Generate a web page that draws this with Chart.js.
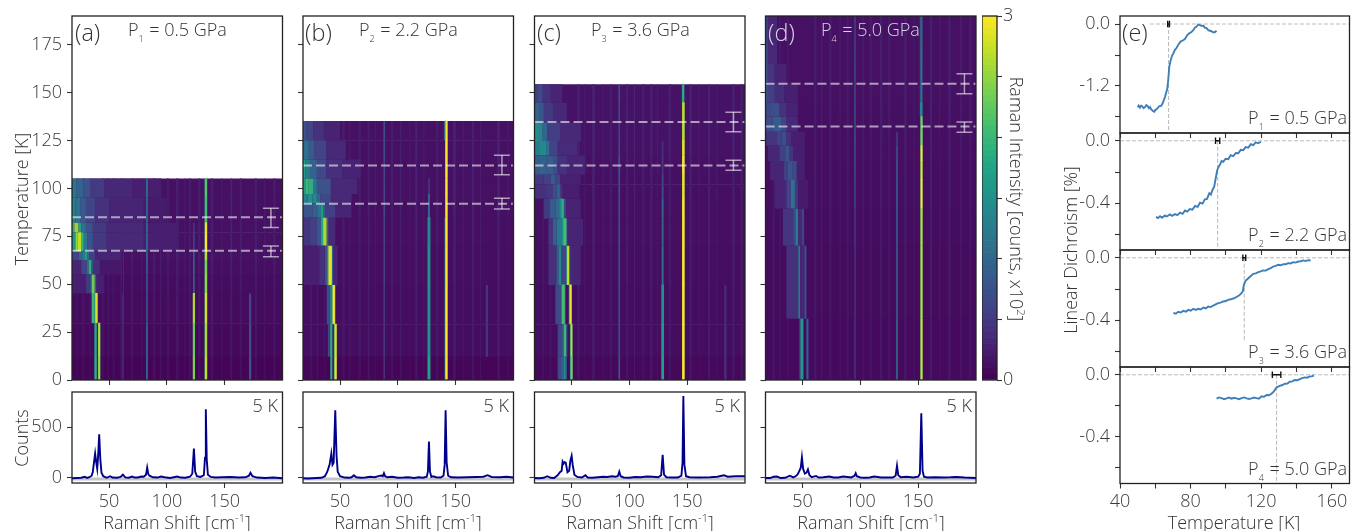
<!DOCTYPE html>
<html>
<head>
<meta charset="utf-8">
<script src="https://cdn.jsdelivr.net/npm/chart.js@4/dist/chart.umd.js"></script>
<style>
  html, body { margin: 0; background: #fff; overflow: hidden; }
  #fig { position: relative; width: 1361px; height: 531px; overflow: hidden; font-family: 'Open Sans', sans-serif; font-weight: 300; color: #333; }
  canvas { position: absolute; }
  .t { position: absolute; white-space: nowrap; line-height: 1; font-size: 18px; }
  .tag { font-size: 23.5px; }
  .c { transform: translate(-50%, -50%); }
  .r90 { transform: translate(-50%, -50%) rotate(90deg); }
  .l90 { transform: translate(-50%, -50%) rotate(-90deg); }
  .t sub { font-size: 9px; vertical-align: -6px; line-height: 0; margin-right: 1px; }
  .t sup { font-size: 11px; vertical-align: 7px; line-height: 0; }
</style>
</head>
<body>
<div id="fig">
  <div class="t tag" style="left:75px;top:21px">(a)</div>
  <div class="t tag" style="left:305px;top:21px">(b)</div>
  <div class="t tag" style="left:537px;top:21px">(c)</div>
  <div class="t tag" style="left:768px;top:21px;color:#d9d3e6">(d)</div>
  <div class="t tag" style="left:1122px;top:21px">(e)</div>
  <div class="t" style="left:128px;top:20px">P<sub>1</sub> = 0.5 GPa</div>
  <div class="t" style="left:359px;top:20px">P<sub>2</sub> = 2.2 GPa</div>
  <div class="t" style="left:591px;top:20px">P<sub>3</sub> = 3.6 GPa</div>
  <div class="t" style="left:821px;top:20px;color:#d9d3e6">P<sub>4</sub> = 5.0 GPa</div>
  <div class="t" style="right:1083px;top:396px">5 K</div>
  <div class="t" style="right:852px;top:396px">5 K</div>
  <div class="t" style="right:621px;top:396px">5 K</div>
  <div class="t" style="right:389px;top:396px">5 K</div>
  <div class="t" style="right:14px;top:108px">P<sub>1</sub> = 0.5 GPa</div>
  <div class="t" style="right:14px;top:225px">P<sub>2</sub> = 2.2 GPa</div>
  <div class="t" style="right:14px;top:342px">P<sub>3</sub> = 3.6 GPa</div>
  <div class="t" style="right:14px;top:459px">P<sub>4</sub> = 5.0 GPa</div>
  <div class="t l90" style="left:21px;top:199px">Temperature [K]</div>
  <div class="t l90" style="left:21px;top:438px">Counts</div>
  <div class="t c" style="left:177px;top:522px">Raman Shift [cm<sup>-1</sup>]</div>
  <div class="t c" style="left:408px;top:522px">Raman Shift [cm<sup>-1</sup>]</div>
  <div class="t c" style="left:640px;top:522px">Raman Shift [cm<sup>-1</sup>]</div>
  <div class="t c" style="left:871px;top:522px">Raman Shift [cm<sup>-1</sup>]</div>
  <div class="t r90" style="left:1017px;top:199px">Raman Intensity [counts, x10<sup>2</sup>]</div>
  <div class="t l90" style="left:1070px;top:250px">Linear Dichroism [%]</div>
  <div class="t c" style="left:1234px;top:522px">Temperature [K]</div>
</div>
<script>
// heatmap rows: temperature edges, row background, stripes shared by rows, then [from, to, intensity] runs per row
const edgesA = [0, 12, 29.5, 45, 55, 62.5, 67, 77, 82, 95, 105];
const bgA = [0.03, 0.07, 0.09, 0.1, 0.12, 0.14, 0.14, 0.14, 0.14, 0.14];
const stripesA = [[22,23,.08],[27,28.5,.1],[33,34,.09],[44,45.5,.08],[49,50,.1],[53,55,.06],[60,61,.15],[62,63,.18],[69,70.5,.12],[78,79,.1],[88,90,.09],[94,95,.12],[100,102,.08],[108,110,.12],[115,116,.09],[119,121,.08],[127,129,.1],[138,140,.12],[147,148,.08],[155,156.5,.14],[163,165,.09],[176,178,.1],[184,185,.08],[192,194,.09]];
const runsA = [
  [[37.2,38,1.0],[38,39,1.9],[39,40.2,.45],[40.5,41,1.3],[41,42,2.6],[42,42.6,.9],[82,83.6,1.0],[61.5,62.5,.4],[122.8,124,2.4],[132.6,133.2,1.1],[133.2,134.4,2.7],[134.4,135,1.1],[171,173,.75]],
  [[37.2,38,1.0],[38,39,1.8],[39,40.2,.45],[40.5,41,1.3],[41,42,2.7],[42,42.6,.9],[82,83.6,.9],[61.5,62.5,.4],[122.8,124,2.3],[132.6,133.2,1.1],[133.2,134.4,2.6],[134.4,135,1.1],[171,173,.7]],
  [[34.8,35.6,1.0],[35.6,37.2,2.0],[37.2,38.4,1.1],[38.4,39.8,2.8],[39.8,40.4,.8],[82,83.6,.7],[61.5,62.5,.4],[122.8,124,2.6],[132.6,133.2,1.1],[133.2,134.4,2.8],[134.4,135,1.1],[171,173,.6]],
  [[18,30,.25],[30,34,.5],[34,35.2,1.2],[35.2,37.6,2.3],[37.6,39,.9],[39,46,.25],[82,83.6,.7],[122.8,124,1.2],[132.6,133.2,1.1],[133.2,134.4,2.5],[134.4,135,1.1]],
  [[18,26,.3],[26,31,.6],[31,32.4,1.1],[32.4,34.6,1.9],[34.6,36,.9],[36,42,.4],[42,60,.2],[82,83.6,.8],[122.8,124,1.2],[132.6,133.2,1.1],[133.2,134.4,2.4],[134.4,135,1.1]],
  [[18,24,.6],[24,27,1.0],[27,29,1.4],[29,31.4,1.6],[31.4,33,1.0],[33,38,.55],[38,60,.3],[82,83.6,.9],[122.8,124,1.1],[132.6,133.2,1.1],[133.2,134.4,2.7],[134.4,135,1.1]],
  [[18,21,1.6],[21,23,2.5],[23,26,2.7],[26,28,2.0],[28,31,1.2],[31,36,.75],[36,48,.5],[48,80,.35],[80,110,.25],[82,83.6,1.0],[122.8,124,.7],[132.6,133.2,1.1],[133.2,134.4,3],[134.4,135,1.1]],
  [[18,20,1.9],[20,23.5,2.5],[23.5,26,1.7],[26,30,1.1],[30,36,.75],[36,48,.5],[48,80,.35],[80,110,.25],[82,83.6,1.0],[122.8,124,.55],[132.6,133.2,1.1],[133.2,134.4,2.9],[134.4,135,1.1]],
  [[18,21,1.3],[21,25,1.1],[25,30,.85],[30,38,.6],[38,50,.42],[50,80,.3],[80,100,.22],[82,83.6,1.0],[132.6,133.2,.9],[133.2,134.4,2.1],[134.4,135,.9]],
  [[18,22,1.15],[22,28,.95],[28,34,.75],[34,46,.52],[46,70,.34],[70,95,.25],[82,83.6,1.1],[132.6,133.2,.9],[133.2,134.4,2.2],[134.4,135,.9]]
];
const edgesB = [0, 12, 29, 49.5, 70, 84.6, 92, 97, 105, 115, 125, 135];
const bgB = [0.04, 0.1, 0.1, 0.11, 0.12, 0.13, 0.14, 0.14, 0.14, 0.14, 0.14];
const stripesB = [[24,26,.09],[30,31,.12],[36,37,.08],[52,54,.1],[58,59,.12],[66,68,.09],[74,75.5,.12],[80,81,.09],[94,96,.1],[102,103,.15],[110,111,.08],[115,117,.12],[122,123,.1],[133,135,.09],[148,150,.14],[156,157,.09],[164,166,.12],[171,172,.09],[186,188,.14],[195,196,.08]];
const runsB = [
  [[41.6,42.2,1],[42.2,43,1.9],[45,45.6,1.5],[45.6,46.8,2.9],[46.8,47.3,1],[87.5,89,.4],[126,127.8,1.7],[140.8,141.4,1.4],[141.4,142.6,3],[142.6,143.2,1.3]],
  [[39.5,41,.6],[41,42,1],[42,43,1.9],[45,45.6,1.4],[45.6,46.8,2.8],[46.8,47.3,1],[87.5,89,.45],[126,127.8,1.5],[140.8,141.4,1.4],[141.4,142.6,3],[142.6,143.2,1.3],[176,178,.45]],
  [[38.5,41,.7],[41,43,1.2],[43,43.6,1.6],[43.6,45.6,3],[45.6,46.2,1],[87.5,89,.45],[126,127.8,1.5],[140.8,141.4,1.4],[141.4,142.6,3],[142.6,143.2,1.3],[176,178,.45]],
  [[18,32,.25],[32,37,.4],[37,39,.7],[39,40,1.4],[40,43,2.9],[43,44,1],[44,48,.3],[87.5,89,.55],[126,127.8,1.5],[140.8,141.4,1.4],[141.4,142.6,3],[142.6,143.2,1.3]],
  [[18,24,.45],[24,30,.55],[30,34,.8],[34,35.4,1.8],[35.4,38.4,2.6],[38.4,40,1],[40,46,.35],[87.5,89,.55],[126,127.8,1.4],[140.8,141.4,1.4],[141.4,142.6,3],[142.6,143.2,1.3]],
  [[18,26,.8],[26,31,.9],[31,33,1.2],[33,35.4,1.6],[35.4,37,1],[37,46,.55],[46,60,.3],[87.5,89,.6],[126,127.8,1.0],[140.8,141.4,1.2],[141.4,142.6,3],[142.6,143.2,1.2]],
  [[18,22,1.3],[22,26,1.5],[26,30,1.4],[30,33,1.0],[33,42,.65],[42,60,.35],[87.5,89,.6],[126,127.8,.9],[140.8,141.4,1.2],[141.4,142.6,3],[142.6,143.2,1.2]],
  [[18,20,1.7],[20,23,2.0],[23,27,1.9],[27,30,1.2],[30,42,.75],[42,65,.35],[87.5,89,.6],[126,127.8,.4],[140.8,141.4,1.2],[141.4,142.6,3],[142.6,143.2,1.2]],
  [[18,20,1.7],[20,24,1.25],[24,30,.95],[30,38,.65],[38,52,.4],[52,68,.28],[87.5,89,.6],[140.8,141.4,1.2],[141.4,142.6,3],[142.6,143.2,1.2]],
  [[18,23,1.1],[23,28,.85],[28,38,.6],[38,55,.35],[87.5,89,.65],[140.8,141.4,1.2],[141.4,142.6,3],[142.6,143.2,1.2]],
  [[18,21,.8],[21,27,.6],[27,36,.42],[36,50,.28],[87.5,89,.7],[139.8,141,.9],[141,141.6,1.6],[141.6,142.6,3],[142.6,143.2,1.1]]
];
const edgesC = [0, 12, 29, 49.5, 70, 84, 94.5, 102, 107, 117, 124.6, 134, 144.6, 154.3];
const bgC = [0.06, 0.1, 0.1, 0.11, 0.12, 0.12, 0.13, 0.13, 0.14, 0.15, 0.15, 0.15, 0.15];
const stripesC = [[25,26,.1],[31,32.5,.09],[55,57,.12],[61,62,.09],[68,70,.15],[77,78,.1],[83,85,.09],[97,99,.1],[104,105,.14],[111,113,.09],[118,120,.12],[124,125,.09],[134,136,.1],[152,154,.12],[160,161,.08],[168,170,.12],[175,176,.09],[189,191,.12],[196,198,.09]];
const runsC = [
  [[38,41,.65],[41,43,.95],[43,45,1.5],[45,46,.9],[49,49.6,1.4],[49.6,50.6,2.4],[50.6,51,.9],[90.5,92,.75],[128,129.6,1.7],[145.6,146,1.3],[146,147.4,3],[147.4,147.9,1.3],[182,184,.4]],
  [[38,42,.6],[42,43.4,1.1],[43.4,45.4,2.0],[45.4,46.4,.8],[49,49.6,1.5],[49.6,50.4,2.7],[50.4,51,.9],[90.5,92,.7],[128,129.6,1.6],[145.6,146,1.3],[146,147.4,3],[147.4,147.9,1.3],[182,184,.4]],
  [[36,41,.65],[41,42,1.1],[42,43.8,2.1],[43.8,45,.8],[48,48.6,1.5],[48.6,49.8,2.9],[49.8,50.4,.9],[90.5,92,.7],[128,129.6,1.5],[145.6,146,1.3],[146,147.4,3],[147.4,147.9,1.3],[182,184,.35]],
  [[30,37,.4],[37,38.8,.9],[38.8,41,1.4],[41,45,.6],[45,46,1.3],[46,48,2.7],[48,49,.9],[49,58,.3],[90.5,92,.7],[128,129.6,1.1],[145.6,146,1.3],[146,147.4,3],[147.4,147.9,1.3]],
  [[30,34,.45],[34,37,.9],[37,42,1.2],[42,43.4,1.5],[43.4,45.2,2.1],[45.2,46.4,.8],[46.4,60,.3],[90.5,92,.7],[128,129.6,1.0],[145.6,146,1.3],[146,147.4,3],[147.4,147.9,1.3]],
  [[26,31,.5],[31,36,.85],[36,40,1.05],[40,41.4,1.4],[41.4,43.4,1.9],[43.4,45,.7],[45,58,.28],[90.5,92,.7],[128,129.6,1.0],[145.6,146,1.2],[146,147.4,3],[147.4,147.9,1.2]],
  [[18,28,.4],[28,34,.5],[34,37,.7],[37,40,.95],[40,42,.45],[42,56,.25],[90.5,92,.7],[128,129.6,.7],[145.6,146,1.2],[146,147.4,2.9],[147.4,147.9,1.2]],
  [[18,26,.5],[26,32,.55],[32,36,.85],[36,40,.6],[40,58,.27],[90.5,92,.7],[128,129.6,.6],[145.6,146,1.2],[146,147.4,2.9],[147.4,147.9,1.2]],
  [[18,22,.85],[22,28,.95],[28,34,.85],[34,38,.7],[38,46,.42],[46,62,.3],[90.5,92,.8],[128,129.6,.45],[145.6,146,1.2],[146,147.4,3],[147.4,147.9,1.2]],
  [[18,22,1.25],[22,28,1.4],[28,31,1.1],[31,38,.6],[38,55,.36],[90.5,92,.6],[128,129.6,.4],[145.6,146,1.2],[146,147.4,2.9],[147.4,147.9,1.2]],
  [[18,21,1.5],[21,25,1.35],[25,29,1.0],[29,40,.55],[40,58,.35],[90.5,92,.55],[145.6,146,1.1],[146,147.4,2.7],[147.4,147.9,1.1]],
  [[18,22,.95],[22,26,.8],[26,34,.5],[34,46,.33],[90.5,92,.6],[145.6,146,1.1],[146,147.4,2.7],[147.4,147.9,1.1]],
  [[18,21,.55],[21,25,.65],[25,32,.42],[32,42,.3],[90.5,92,.7],[145.4,146,1.2],[146,147,1.9],[147,147.6,1.1]]
];
const edgesD = [0, 31.8, 69.9, 89.3, 104.3, 114.2, 122.2, 129.5, 137.3, 144.6, 155, 164.8, 174.7, 190];
const bgD = [0.08, 0.09, 0.1, 0.11, 0.11, 0.12, 0.12, 0.13, 0.13, 0.14, 0.14, 0.14, 0.14];
const stripesD = [[24,26,.09],[30,31,.12],[37,38,.08],[60,62,.1],[66,67,.12],[73,75,.09],[82,83,.1],[88,90,.08],[102,103,.12],[108,110,.08],[117,119,.1],[124,126,.08],[138,140,.12],[146,147,.09],[160,162,.12],[168,169,.08],[176,178,.12],[186,188,.09],[194,196,.08]];
const runsD = [
  [[47,48.6,.45],[48.6,50.2,1.6],[50.2,51,.5],[53.4,55.2,.9],[94.8,96,.5],[131,132.4,1.1],[151.8,152.4,1.1],[152.4,153.4,2.8],[153.4,154,1.1]],
  [[36,45.6,.4],[45.6,46.4,.7],[46.4,47.8,1.3],[47.8,51.6,.3],[51.6,53.4,.75],[94.8,96,.5],[131,132.4,.9],[151.8,152.4,1.1],[152.4,153.4,2.7],[153.4,154,1.1]],
  [[33,42,.45],[42,44,.7],[44,46,1.35],[46,49.4,.35],[49.4,51.4,.6],[94.8,96,.55],[131,132.4,.9],[151.8,152.4,1.1],[152.4,153.4,2.7],[153.4,154,1.1]],
  [[26,36,.3],[36,40,.6],[40,43.4,1.1],[43.4,46,.5],[46,55,.22],[94.8,96,.7],[131,132.4,.9],[151.8,152.4,1.1],[152.4,153.4,3],[153.4,154,1.1]],
  [[22,34,.3],[34,37,.55],[37,41,.8],[41,45,.65],[45,52,.25],[94.8,96,.75],[131,132.4,.85],[151.8,152.4,1.1],[152.4,153.4,2.9],[153.4,154,1.1]],
  [[20,30,.32],[30,35,.55],[35,38.4,.8],[38.4,42,.45],[42,52,.25],[94.8,96,.8],[131,132.4,.8],[151.8,152.4,1.1],[152.4,153.4,3],[153.4,154,1.1]],
  [[18,28,.45],[28,32,.6],[32,36,.7],[36,40,.42],[40,52,.25],[94.8,96,.85],[131,132.4,.55],[151.8,152.4,1.1],[152.4,153.4,2.5],[153.4,154,1.1]],
  [[18,24,.7],[24,32,.85],[32,36,.6],[36,46,.35],[94.8,96,.8],[151.8,152.4,1.0],[152.4,153.4,2.4],[153.4,154,1.0]],
  [[18,22,.65],[22,30,.72],[30,36,.42],[36,46,.28],[94.8,96,.75],[151.4,152,.9],[152,153.2,1.4],[153.2,153.8,.9]],
  [[18,20,.8],[20,26,.55],[26,34,.38],[34,46,.26],[94.8,96,.7],[151.4,152,.9],[152,153.2,1.3],[153.2,153.8,.9]],
  [[18,20,.75],[20,26,.45],[26,36,.28],[94.8,96,.7],[151.4,152,.9],[152,153.2,1.3],[153.2,153.8,.9]],
  [[18,20,.7],[20,28,.35],[94.8,96,.65],[151.4,152,.9],[152,153.2,1.25],[153.2,153.8,.9]],
  [[18,20,.6],[20,28,.32],[94.8,96,.6],[151.4,152,.9],[152,153.2,1.2],[153.2,153.8,.9]]
];
// transition temperatures and their errors per pressure: [T, low, high]
const tcUpperA = [85, 79.6, 89.7], tcLowerA = [67.5, 64.3, 69.9];
const tcUpperB = [112, 107.2, 117.3], tcLowerB = [92, 89.3, 94.9];
const tcUpperC = [134.7, 129.6, 139.7], tcLowerC = [112, 109.5, 114.7];
const tcUpperD = [154.7, 149.4, 159.9], tcLowerD = [132.3, 129.3, 134.7];

// spectra at 5 K
const specXa = [18,22,26,29,31,33,35,36,37,38,39,39.8,40.5,41.5,42.5,43.5,45,48,51,53,57,60,62,64,67,70,72,75,78,80,82,83,84,85,88,92,95,98,103,109,112,116,120,122,123.4,124.5,126,129,132,133,133.7,134.5,135.5,138,142,148,155,162,168,171,172.3,174,178,185,192,200];
const specYa = [-5,-3,0,10,-2,5,20,60,150,240,150,90,200,430,180,50,15,0,15,2,0,8,30,3,0,12,2,3,12,10,30,100,35,20,5,2,12,5,-2,12,2,0,10,40,290,60,15,8,25,200,680,180,30,8,2,5,8,3,5,20,50,15,2,-3,2,-5];
const specXb = [18,22,26,30,34,37,39,41,42.5,43.5,44.5,45.9,47,48,50,54,58,60,62,64,68,72,76,80,84,86,87,88,89,91,95,100,105,109,114,118,122,125,126,126.9,127.8,129,130.5,133,137,139.5,140.5,141.3,142.2,143.5,146,152,160,168,174,177.6,181,188,194,200];
const specYb = [-5,-8,-5,-3,0,15,60,130,240,130,150,670,220,60,15,2,0,5,25,5,0,2,10,5,18,22,15,45,15,5,10,0,2,5,-2,5,0,10,60,360,60,8,15,5,2,20,130,670,150,20,5,2,5,8,10,25,8,5,10,3];
const specXc = [18,22,26,29,32,35,38,40,41.5,42.3,43.2,44,45,46.5,48,49,50.1,51,52.5,55,59,62,64,68,73,77,81,85,88,90,91.3,92.5,95,100,105,110,115,120,125,127.5,128.8,130,132,137,142,145,146,146.7,147.6,149,152,160,170,176,181.8,185,192,200];
const specYc = [-3,-5,0,15,0,-2,25,55,70,160,140,155,150,55,70,170,218,130,30,8,2,25,3,0,5,10,8,15,10,15,60,15,3,0,8,5,12,10,5,25,228,30,5,2,3,20,150,811,130,15,5,2,5,10,25,10,15,15];
const specXd = [18,22,25,28,31,35,39,42,44,45.6,47,48.5,49.5,50.5,52,53.5,54.7,56,58,61.7,64,68,73,77,81,85,89,92,95,96,97,100,104,108,112,118,124,128,130.5,131.7,132.8,135,140,146,150,151.5,152.7,153.8,155,158,165,172,178,183,190,200];
const specYd = [-3,-3,10,12,-3,0,20,3,15,30,60,100,202,90,40,50,83,25,5,18,3,5,12,2,3,12,8,3,20,45,15,3,0,3,12,2,2,3,20,119,25,5,10,2,10,40,640,70,10,3,5,3,5,8,2,-2];

// linear dichroism curves, with the scatter of the trace kept in the readings
const ldTa = [50,50.6,51.3,52,52.6,53.4,54.1,54.9,55.7,56.4,57,57.6,58.1,58.8,59.4,60.1,60.8,61.5,62.3,63.2,64.1,65.5,66.8,67.4,67.9,68.7,69.5,70.2,71.1,72.1,73.2,74.3,75.5,76.8,78,79.2,80.3,81.5,82.4,83.4,84.3,85.3,86.2,87.2,88.1,89,90,90.9,91.8,92.8,93.7,94.7];
const ldVa = [-1.61,-1.58,-1.62,-1.58,-1.59,-1.63,-1.61,-1.57,-1.59,-1.63,-1.61,-1.65,-1.65,-1.69,-1.70,-1.66,-1.65,-1.62,-1.59,-1.59,-1.54,-1.41,-1.25,-1.05,-.83,-.70,-.61,-.57,-.50,-.46,-.39,-.34,-.32,-.29,-.22,-.18,-.16,-.12,-.07,-.05,-.01,-.02,-.04,-.03,-.07,-.08,-.12,-.13,-.14,-.16,-.16,-.13];
const ldTb = [60.4,61.5,62.7,63.8,65.5,66.5,68.3,69.5,71.2,72.5,74,75.5,76.8,78,79.6,81,82.5,84,85.3,86.7,88.1,89.3,90.6,91.5,92.5,93.4,94.2,95.1,95.9,96.6,97.5,98.5,99.8,101.3,102.7,104.2,105.6,107,108.4,109.8,111.2,112.7,114.1,115.5,116.9,118.3,119.8];
const ldVb = [-.488,-.495,-.484,-.493,-.478,-.485,-.472,-.481,-.470,-.477,-.460,-.468,-.447,-.454,-.437,-.442,-.418,-.424,-.397,-.403,-.375,-.372,-.335,-.345,-.312,-.293,-.24,-.187,-.166,-.154,-.130,-.135,-.115,-.118,-.092,-.098,-.078,-.080,-.058,-.060,-.040,-.044,-.022,-.028,-.010,-.016,-.006];
const ldTc = [70.2,71.6,73,74.4,75.9,77.3,78.7,80.1,81.5,82.9,84.3,85.7,87.2,88.6,90,91.4,92.8,94.2,95.6,97,98.5,99.9,101.3,102.7,104.2,105.3,106.4,107.4,108.3,109.5,110.2,111.1,112.7,114.1,115.5,116.9,118.3,119.7,121.1,122.5,124,125.4,126.8,128.2,129.6,131,132.5,133.9,135.3,136.7,138.1,139.5,141,142.4,143.8,145.2,146.6,148];
const ldVc = [-.353,-.358,-.346,-.351,-.340,-.345,-.334,-.339,-.327,-.334,-.327,-.331,-.319,-.324,-.312,-.316,-.306,-.298,-.291,-.287,-.280,-.277,-.270,-.266,-.261,-.256,-.248,-.242,-.233,-.216,-.173,-.148,-.131,-.117,-.103,-.100,-.092,-.087,-.081,-.082,-.073,-.066,-.056,-.052,-.045,-.048,-.041,-.041,-.034,-.036,-.028,-.031,-.024,-.022,-.017,-.021,-.015,-.017];
const ldTd = [94.7,96.1,97.5,99,100.4,101.8,103.2,104.6,106,107.4,108.9,110.3,111.7,113.1,114.5,115.9,117.3,118.7,120.2,121.6,123,124.4,125.8,127.2,128.7,130.5,132,133.4,134.8,136.2,137.6,139,140.5,141.9,143.3,144.7,146.1,147.5,149,149.8];
const ldVd = [-.154,-.146,-.150,-.157,-.152,-.147,-.154,-.148,-.152,-.157,-.150,-.146,-.152,-.156,-.152,-.147,-.150,-.154,-.139,-.142,-.130,-.132,-.122,-.107,-.081,-.071,-.066,-.058,-.056,-.045,-.043,-.034,-.035,-.028,-.021,-.017,-.019,-.011,-.009,-.004];
// [T, error, where the dashed drop line stops]
const ldTcA = [67.5, .5, -2.11], ldTcB = [95.3, 1.2, -.7], ldTcC = [110.4, .8, -.54], ldTcD = [128.7, 2.4, -.7];

const heatTicksX = [50, 100, 150];
const heatTicksY = [0, 25, 50, 75, 100, 125, 150, 175];
const countTicks = [0, 500];
const cbarTicks = [0, .5, 1, 1.5, 2, 2.5, 3];
const ldTicksX = [40, 60, 80, 100, 120, 140, 160];
const ldLabelsX = [40, 80, 120, 160];

const VIRIDIS = ['#440154','#482475','#414487','#355f8d','#2a788e','#21918c','#22a884','#44bf70','#7ad151','#bddf26','#fde725'];
const INK = '#3a3a3a';
const FONT = "'Open Sans', sans-serif";
const HEAT_W = 210.5, HEAT_H = 364, PX_PER_K = HEAT_H / 190;

function hexRgb(h) { return [1, 3, 5].map(i => parseInt(h.slice(i, i + 2), 16)); }
function viridis(v) {
  const t = Math.min(Math.max(v / 3, 0), 1) * 10;
  const i = Math.min(Math.floor(t), 9), f = t - i;
  const a = hexRgb(VIRIDIS[i]), b = hexRgb(VIRIDIS[i + 1]);
  return `rgb(${a.map((c, k) => Math.round(c + (b[k] - c) * f)).join(',')})`;
}

const framePlugin = {
  id: 'frame',
  afterDatasetsDraw(chart) {
    const { ctx, chartArea: a } = chart;
    ctx.save();
    ctx.strokeStyle = '#222';
    ctx.lineWidth = 1.3;
    ctx.strokeRect(a.left, a.top, a.right - a.left, a.bottom - a.top);
    ctx.restore();
  }
};

function scaleOpts(min, max, ticks, labelFn, fitSize, horizontal, pad = horizontal ? 3 : 5) {
  return {
    type: 'linear', min, max, offset: false, position: horizontal ? 'bottom' : 'left',
    grid: { offset: false, drawOnChartArea: false, tickLength: 5, tickColor: '#333', tickWidth: 1.1 },
    border: { display: false },
    ticks: { autoSkip: false, maxRotation: 0, padding: pad, color: INK, font: { family: FONT, weight: 300, size: 18 }, callback: labelFn },
    afterBuildTicks: s => { s.ticks = ticks.map(value => ({ value })); },
    afterFit: s => {
      s.paddingLeft = s.paddingRight = s.paddingTop = s.paddingBottom = 0;
      if (horizontal) s.height = fitSize; else s.width = fitSize;
    }
  };
}

// one canvas per axes, the plot box is placed exactly
function addChart(L, T, W, H, m, config) {
  const fig = document.getElementById('fig');
  const cv = document.createElement('canvas');
  const left = Math.floor(L - m.l), top = Math.floor(T - m.t);
  const w = Math.ceil(L + W + m.r) - left, h = Math.ceil(T + H + m.b) - top;
  cv.width = w; cv.height = h;
  cv.style.cssText = `left:${left}px;top:${top}px;width:${w}px;height:${h}px`;
  fig.insertBefore(cv, fig.firstChild);
  config.options = Object.assign({
    responsive: false, animation: false, devicePixelRatio: 1, events: [],
    plugins: { legend: { display: false }, tooltip: { enabled: false } },
    layout: { autoPadding: false, padding: { left: 0, top: T - top, right: left + w - L - W, bottom: top + h - T - H - m.b } }
  }, config.options);
  config.plugins = [framePlugin];
  return { config, cv };
}

function lineSet(points, color, width, dash = [], extra = {}) {
  return Object.assign({
    type: 'scatter', indexAxis: 'x', showLine: true, data: points, borderColor: color, borderWidth: width,
    borderDash: dash, pointRadius: 0, order: 0
  }, extra);
}

function heatRows(edges, bg, stripes, runs) {
  return edges.slice(1).map((hi, i) => {
    const lo = edges[i];
    // brightest runs go last so a peak is never painted over by its flanks
    const cells = [[18, 200, bg[i]], ...stripes.map(s => [s[0], s[1], bg[i] + s[2]]), ...runs[i]].sort((a, b) => a[2] - b[2]);
    return {
      data: cells.map(c => ({ x: [c[0], c[1]], y: (lo + hi) / 2 })),
      backgroundColor: cells.map(c => viridis(c[2])),
      inflateAmount: cells.map(c => (c[2] >= 1.4 && c[1] - c[0] < 2) ? 0.45 : 0),
      barThickness: (hi - lo) * PX_PER_K + 0.5, grouped: false, borderWidth: 0, order: 1
    };
  });
}

function tcMarks(tc) {
  const mark = 'rgba(255,255,255,0.58)';
  return [
    lineSet([{ x: 18, y: tc[0] }, { x: 200, y: tc[0] }], mark, 2, [9, 4]),
    lineSet([{ x: 190, y: tc[1] }, { x: 190, y: tc[2] }], mark, 1.5, [], { pointStyle: 'line', pointRadius: 8, pointBorderColor: mark, pointBorderWidth: 1.5 })
  ];
}

function heatmap(L, edges, bg, stripes, runs, upper, lower, showLabels) {
  const lw = L - Math.floor(L - 50);
  const c = addChart(L, 16, HEAT_W, HEAT_H, { l: 50, t: 4, r: 2, b: 6 }, {
    type: 'bar',
    data: { datasets: [...tcMarks(upper), ...tcMarks(lower), ...heatRows(edges, bg, stripes, runs)] },
    options: {
      indexAxis: 'y',
      scales: {
        x: scaleOpts(18, 200, heatTicksX, () => '', 6, true),
        y: scaleOpts(0, 190, heatTicksY, v => showLabels ? String(v) : '', lw, false)
      }
    }
  });
  new Chart(c.cv, c.config);
}

function spectrum(L, xs, ys, showLabels) {
  const lw = L - Math.floor(L - 50);
  const c = addChart(L, 392, HEAT_W, 91, { l: 50, t: 2, r: 2, b: 30 }, {
    type: 'scatter',
    data: { datasets: [
      lineSet(xs.map((x, i) => ({ x, y: ys[i] })), '#00008b', 1.9),
      lineSet([{ x: 18, y: -12 }, { x: 200, y: -12 }], '#c4c4c4', 3)
    ] },
    options: { scales: {
      x: scaleOpts(18, 200, heatTicksX, v => String(v), 30, true),
      y: scaleOpts(-52, 850, countTicks, v => showLabels ? String(v) : '', lw, false)
    } }
  });
  new Chart(c.cv, c.config);
}

function dichroism(T, H, yMin, yMax, ticks, labels, ts, vs, tc, mode) {
  const L = 1120, W = 229.5, last = mode === 'last';
  const guide = '#bdbdbd', bar = '#111';
  const c = addChart(L, T, W, H, { l: 50, t: 8, r: 2, b: last ? 30 : 6 }, {
    type: 'scatter',
    data: { datasets: [
      lineSet([{ x: tc[0] - tc[1], y: 0 }, { x: tc[0] + tc[1], y: 0 }], bar, 1.5, [], { pointStyle: 'line', pointRadius: 3.2, rotation: 90, pointBorderColor: bar, pointBorderWidth: 1.4 }),
      lineSet(ts.map((x, i) => ({ x, y: vs[i] })), '#3f7fb8', 1.9),
      lineSet([{ x: tc[0], y: 0 }, { x: tc[0], y: tc[2] }], guide, 1.1, [4, 2]),
      lineSet([{ x: mode === 'first' ? 57 : 40, y: 0 }, { x: 170, y: 0 }], guide, 1.1, [4, 2])
    ] },
    options: { scales: {
      x: scaleOpts(40, 170, ldTicksX, v => (last && ldLabelsX.includes(v)) ? String(v) : '', last ? 30 : 6, true),
      y: scaleOpts(yMin, yMax, ticks, v => labels.includes(v) ? (v === 0 ? '0.0' : v.toFixed(1)) : '', 50, false)
    } }
  });
  new Chart(c.cv, c.config);
}

heatmap(72, edgesA, bgA, stripesA, runsA, tcUpperA, tcLowerA, true);
heatmap(303, edgesB, bgB, stripesB, runsB, tcUpperB, tcLowerB, false);
heatmap(534.5, edgesC, bgC, stripesC, runsC, tcUpperC, tcLowerC, false);
heatmap(765.5, edgesD, bgD, stripesD, runsD, tcUpperD, tcLowerD, false);

spectrum(72, specXa, specYa, true);
spectrum(303, specXb, specYb, false);
spectrum(534.5, specXc, specYc, false);
spectrum(765.5, specXd, specYd, false);

dichroism(16, 117, -2.11, .155, [0, -.6, -1.2, -1.8], [0, -1.2], ldTa, ldVa, ldTcA, 'first');
dichroism(133, 117, -.7, .05, [0, -.2, -.4, -.6], [0, -.4], ldTb, ldVb, ldTcB, 'mid');
dichroism(250, 117, -.7, .05, [0, -.2, -.4, -.6], [0, -.4], ldTc, ldVc, ldTcC, 'mid');
dichroism(367, 116.5, -.7, .05, [0, -.2, -.4, -.6], [0, -.4], ldTd, ldVd, ldTcD, 'last');

// colorbar
const cbarStep = 0.05;
const cbarLevels = Array.from({ length: 60 }, (_, i) => i * cbarStep);
const cb = addChart(982, 16, 15, 364, { l: 0, t: 10, r: 22, b: 10 }, {
  type: 'bar',
  data: { datasets: [{
    data: cbarLevels.map(v => ({ x: 0, y: [v, v + cbarStep] })),
    backgroundColor: cbarLevels.map(v => viridis(v + cbarStep / 2)),
    barThickness: 16, borderWidth: 0
  }] },
  options: { scales: {
    x: { type: 'linear', min: -1, max: 1, display: false },
    y: Object.assign(scaleOpts(0, 3, cbarTicks, v => (v === 0 || v === 3) ? String(v) : '', 22, false, 1), { position: 'right' })
  } }
});
cb.config.options.layout.padding.bottom = 10;
cb.config.options.layout.padding.right = 0;
new Chart(cb.cv, cb.config);
</script>
</body>
</html>
